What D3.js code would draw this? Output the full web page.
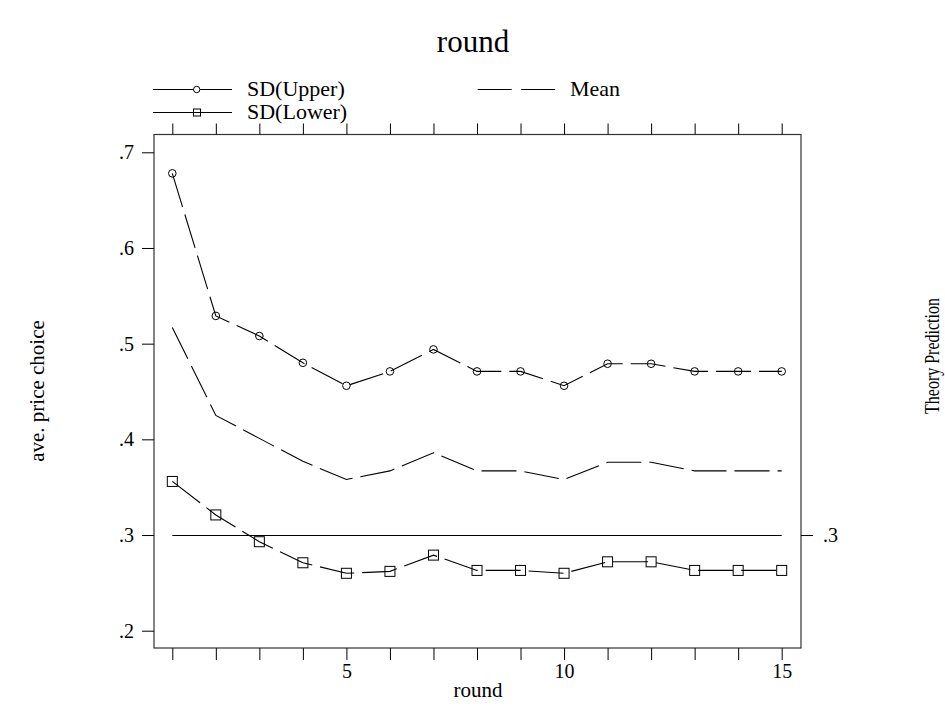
<!DOCTYPE html>
<html>
<head>
<meta charset="utf-8">
<script src="https://cdn.jsdelivr.net/npm/d3@7/dist/d3.min.js"></script>
<style>
  body { margin: 0; background: #fff; }
  svg { display: block; font-family: "Liberation Serif", "Times New Roman", serif; }
</style>
</head>
<body>
<svg id="chart" width="945" height="706"></svg>
<script>
// ---- data ----
const rounds = [1,2,3,4,5,6,7,8,9,10,11,12,13,14,15];
const sdUpper = [0.678,0.529,0.508,0.480,0.456,0.471,0.494,0.471,0.471,0.456,0.479,0.479,0.471,0.471,0.471];
const meanVals = [0.517,0.425,0.401,0.377,0.358,0.367,0.386,0.367,0.367,0.358,0.376,0.376,0.367,0.367,0.367];
const sdLower = [0.356,0.321,0.293,0.271,0.260,0.262,0.279,0.263,0.263,0.260,0.272,0.272,0.263,0.263,0.263];
const theory = 0.3;
const xTickLabels = [5,10,15];
const yTickValues = [0.2,0.3,0.4,0.5,0.6,0.7];
const rightTickValues = [0.3];
const seriesNames = ["SD(Upper)","SD(Lower)","Mean"];

// ---- layout ----
const svg = d3.select("#chart");
const frame = {left: 154, right: 801, top: 134.5, bottom: 648};
const x = d3.scaleLinear().domain([1,15]).range([172.3,781.7]);
const y = d3.scaleLinear().domain([0.2,0.7]).range([630.7,152.3]);
const fmt = d => d3.format(".1f")(d).replace(/^0/, "");
const dash = "35,8";

// title
svg.append("text").attr("x", 473).attr("y", 52).attr("text-anchor","middle")
  .style("font-size","31px").text("round");

// frame
svg.append("rect").attr("x", frame.left).attr("y", frame.top)
  .attr("width", frame.right-frame.left).attr("height", frame.bottom-frame.top)
  .attr("fill","none").attr("stroke","#333").attr("stroke-width",1.2);

function styleAxis(g){
  g.select(".domain").remove();
  g.selectAll(".tick line").attr("stroke","#000").attr("stroke-width",1);
  g.selectAll(".tick text").style("font-family","'Liberation Serif', serif").style("font-size","20px").attr("fill","#000");
}

// bottom axis
svg.append("g").attr("transform",`translate(0,${frame.bottom})`)
  .call(d3.axisBottom(x).tickValues(rounds).tickSize(12).tickPadding(4)
    .tickFormat(d => xTickLabels.includes(d) ? d : ""))
  .call(styleAxis);
// top axis
svg.append("g").attr("transform",`translate(0,${frame.top})`)
  .call(d3.axisTop(x).tickValues(rounds).tickSize(11).tickFormat(""))
  .call(styleAxis);
// left axis
svg.append("g").attr("transform",`translate(${frame.left},0)`)
  .call(d3.axisLeft(y).tickValues(yTickValues).tickSize(12).tickPadding(8).tickFormat(fmt))
  .call(styleAxis);
// right axis
svg.append("g").attr("transform",`translate(${frame.right},0)`)
  .call(d3.axisRight(y).tickValues(rightTickValues).tickSize(12).tickPadding(10).tickFormat(fmt))
  .call(styleAxis);

// axis titles
svg.append("text").attr("x", 478).attr("y", 697).attr("text-anchor","middle")
  .style("font-size","21px").text("round");
svg.append("text").attr("transform","translate(44,391) rotate(-90)").attr("text-anchor","middle")
  .style("font-size","21px").text("ave. price choice");
svg.append("text").attr("transform","translate(939,356) rotate(-90)").attr("text-anchor","middle")
  .attr("textLength",116).attr("lengthAdjust","spacingAndGlyphs")
  .style("font-size","20px").text("Theory Prediction");

// theory line
svg.append("line").attr("x1", x(rounds[0])).attr("x2", x(rounds[rounds.length-1]))
  .attr("y1", Math.round(y(theory))+0.5).attr("y2", Math.round(y(theory))+0.5)
  .attr("stroke","#000").attr("stroke-width",1.2);

const line = d3.line().x((d,i)=>x(rounds[i])).y(d=>y(d));
function drawLine(vals){
  svg.append("path").datum(vals).attr("d", line).attr("fill","none")
    .attr("stroke","#000").attr("stroke-width",1.1).attr("stroke-dasharray", dash);
}
drawLine(meanVals);
drawLine(sdUpper);
drawLine(sdLower);

// markers
svg.append("g").selectAll("circle").data(sdUpper).join("circle")
  .attr("cx",(d,i)=>x(rounds[i])).attr("cy",d=>y(d)).attr("r",3.8)
  .attr("fill","none").attr("stroke","#000").attr("stroke-width",1);
svg.append("g").selectAll("rect").data(sdLower).join("rect")
  .attr("x",(d,i)=>x(rounds[i])-5).attr("y",d=>y(d)-5).attr("width",10).attr("height",10)
  .attr("fill","none").attr("stroke","#000").attr("stroke-width",1);

// legend
const leg = svg.append("g");
// SD(Upper)
leg.append("line").attr("x1",153).attr("x2",232).attr("y1",89.5).attr("y2",89.5).attr("stroke","#000");
leg.append("circle").attr("cx",196.7).attr("cy",89.5).attr("r",3.2).attr("fill","#fff").attr("stroke","#000");
leg.append("text").attr("x",247).attr("y",96).style("font-size","22px").text(seriesNames[0]);
// SD(Lower)
leg.append("line").attr("x1",153).attr("x2",232).attr("y1",112.5).attr("y2",112.5).attr("stroke","#000");
leg.append("rect").attr("x",193.5).attr("y",109).attr("width",7).attr("height",7).attr("fill","none").attr("stroke","#000");
leg.append("text").attr("x",247).attr("y",119).style("font-size","22px").text(seriesNames[1]);
// Mean
leg.append("line").attr("x1",477.7).attr("x2",557).attr("y1",89.5).attr("y2",89.5).attr("stroke","#000")
  .attr("stroke-dasharray","34,9.5");
leg.append("text").attr("x",570).attr("y",96).style("font-size","22px").text(seriesNames[2]);
</script>
</body>
</html>
